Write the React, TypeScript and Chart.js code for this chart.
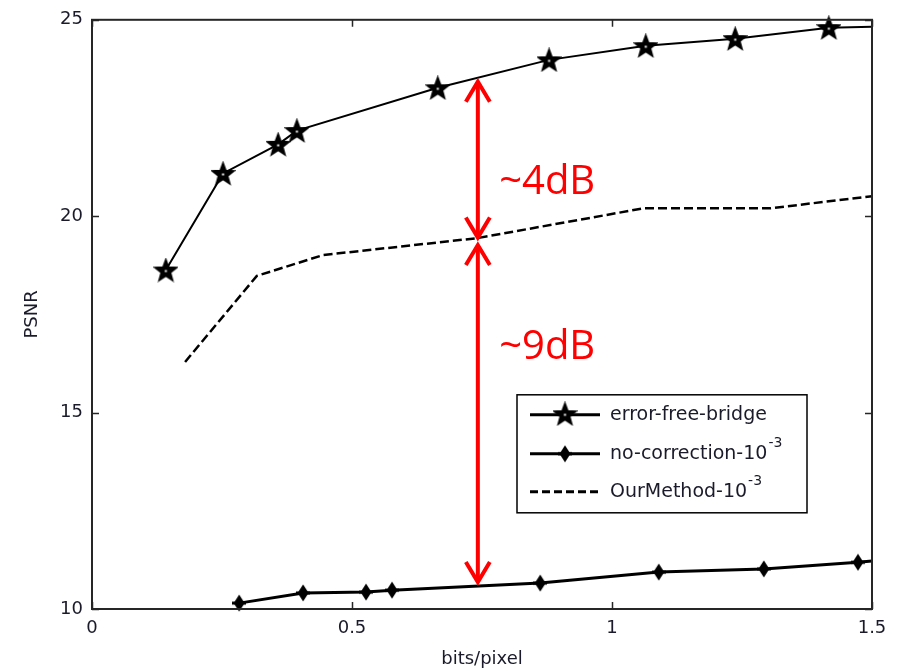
import React, { useEffect, useRef } from 'react';
import { Chart, registerables } from 'chart.js';

Chart.register(...registerables);

// ---- data ----
const bridgeX = [0.142, 0.252, 0.358, 0.394, 0.665, 0.879, 1.065, 1.237, 1.417, 1.5];
const bridgeY = [18.63, 21.09, 21.83, 22.18, 23.27, 23.98, 24.34, 24.52, 24.8, 24.82];
const noCorrX = [0.283, 0.406, 0.527, 0.577, 0.862, 1.09, 1.292, 1.473, 1.5];
const noCorrY = [10.15, 10.41, 10.43, 10.48, 10.66, 10.94, 11.02, 11.19, 11.22];
const ourX = [0.179, 0.317, 0.444, 0.74, 1.06, 1.304, 1.5];
const ourY = [16.29, 18.48, 19.01, 19.44, 20.2, 20.2, 20.51];

const xTicks = [0, 0.5, 1, 1.5];
const yTicks = [10, 15, 20, 25];

const legendNames = ['error-free-bridge', 'no-correction-10', 'OurMethod-10'];
const legendSup = ['', '-3', '-3'];

// annotation (red arrows)
const gapX = 0.742;
const arrowUpper = [23.45, 19.43];
const arrowLower = [19.29, 10.66];
const gapLabels = ['~4dB', '~9dB'];
const gapLabelX = 0.783;
const gapLabelY = [20.56, 16.37];

const TICK_FONT = { family: '"DejaVu Sans", Arial, sans-serif', size: 18 };

function makeStar(size: number) {
  const c = document.createElement('canvas');
  c.width = size;
  c.height = size;
  const g = c.getContext('2d')!;
  const cx = size / 2, cy = size / 2 + 1;
  const R = size / 2 - 1.5, r = R * 0.42;
  g.beginPath();
  for (let i = 0; i < 10; i++) {
    const a = -Math.PI / 2 + (i * Math.PI) / 5;
    const rad = i % 2 ? r : R;
    g.lineTo(cx + rad * Math.cos(a), cy + rad * Math.sin(a));
  }
  g.closePath();
  g.fillStyle = '#000';
  g.fill();
  g.lineWidth = 2;
  g.strokeStyle = '#000';
  g.stroke();
  g.fillStyle = '#fff';
  g.fillRect(cx - 1, cy - 1, 2, 2);
  return c;
}

function makeBlob() {
  const c = document.createElement('canvas');
  c.width = 14;
  c.height = 18;
  const g = c.getContext('2d')!;
  g.fillStyle = '#000';
  g.beginPath();
  g.moveTo(7, 0.5);
  g.lineTo(12.5, 9);
  g.lineTo(7, 17.5);
  g.lineTo(1.5, 9);
  g.closePath();
  g.fill();
  g.fillRect(0, 7.5, 14, 3);
  return c;
}

export default function App() {
  const ref = useRef<HTMLCanvasElement | null>(null);

  useEffect(() => {
    document.body.style.margin = '0';
    const canvas = ref.current!;
    const star = makeStar(25);
    const blob = makeBlob();

    const overlay = {
      id: 'overlay',
      afterDatasetsDraw(chart: any) {
        const ctx = chart.ctx as CanvasRenderingContext2D;
        const xs = chart.scales.x;
        const ys = chart.scales.y;
        const a = chart.chartArea;
        ctx.save();

        // red arrows
        ctx.strokeStyle = '#ff0000';
        ctx.lineWidth = 4;
        ctx.lineCap = 'butt';
        const ax = xs.getPixelForValue(gapX);
        const head = (x: number, y: number, dir: number) => {
          ctx.beginPath();
          ctx.moveTo(x - 12, y + dir * 20);
          ctx.lineTo(x, y);
          ctx.lineTo(x + 12, y + dir * 20);
          ctx.stroke();
        };
        [arrowUpper, arrowLower].forEach((seg) => {
          const y1 = ys.getPixelForValue(seg[0]);
          const y2 = ys.getPixelForValue(seg[1]);
          ctx.beginPath();
          ctx.moveTo(ax, y1 + 2);
          ctx.lineTo(ax, y2 - 2);
          ctx.stroke();
          head(ax, y1 + 1, 1);
          head(ax, y2 - 1, -1);
        });
        ctx.fillStyle = '#ff0000';
        ctx.font = '40px "Open Sans", "Noto Sans", sans-serif';
        ctx.textBaseline = 'alphabetic';
        ctx.textAlign = 'left';
        gapLabels.forEach((t, i) => {
          ctx.fillText(t, xs.getPixelForValue(gapLabelX), ys.getPixelForValue(gapLabelY[i]));
        });

        // legend box
        const lx = a.left + 425, ly = a.top + 375, lw = 290, lh = 118;
        ctx.fillStyle = '#fff';
        ctx.fillRect(lx, ly, lw, lh);
        ctx.strokeStyle = '#000';
        ctx.lineWidth = 1.5;
        ctx.strokeRect(lx, ly, lw, lh);
        const rows = [20, 59, 97];
        legendNames.forEach((name, i) => {
          const ry = ly + rows[i];
          ctx.strokeStyle = '#000';
          ctx.lineWidth = 3;
          ctx.setLineDash(i === 2 ? [8, 4] : []);
          ctx.beginPath();
          ctx.moveTo(lx + 13, ry);
          ctx.lineTo(lx + 83, ry);
          ctx.stroke();
          ctx.setLineDash([]);
          if (i === 0) ctx.drawImage(star, lx + 48 - 12.5, ry - 13.5);
          if (i === 1) ctx.drawImage(blob, lx + 48 - 7, ry - 9);
          ctx.fillStyle = '#1a1a2a';
          ctx.font = '19px "DejaVu Sans", Arial, sans-serif';
          ctx.textBaseline = 'middle';
          ctx.fillText(name, lx + 93, ry);
          if (legendSup[i]) {
            const w = ctx.measureText(name).width;
            ctx.font = '14px "DejaVu Sans", Arial, sans-serif';
            ctx.fillText(legendSup[i], lx + 93 + w + 1, ry - 10);
          }
        });
        ctx.restore();
      },
      afterDraw(chart: any) {
        const ctx = chart.ctx as CanvasRenderingContext2D;
        const a = chart.chartArea;
        const xs = chart.scales.x;
        const ys = chart.scales.y;
        ctx.save();
        ctx.strokeStyle = '#262626';
        ctx.lineWidth = 2;
        ctx.strokeRect(a.left, a.top, a.right - a.left, a.bottom - a.top);
        ctx.lineWidth = 1.5;
        ctx.beginPath();
        xTicks.forEach((v) => {
          const px = Math.round(xs.getPixelForValue(v)) + 0.5;
          ctx.moveTo(px, a.bottom);
          ctx.lineTo(px, a.bottom - 7);
          ctx.moveTo(px, a.top);
          ctx.lineTo(px, a.top + 7);
        });
        yTicks.forEach((v) => {
          const py = Math.round(ys.getPixelForValue(v)) + 0.5;
          ctx.moveTo(a.left, py);
          ctx.lineTo(a.left + 7, py);
          ctx.moveTo(a.right, py);
          ctx.lineTo(a.right - 7, py);
        });
        ctx.stroke();
        ctx.restore();
      },
    };

    const last = (n: number) => (c: any) => (c.dataIndex === n - 1 ? 0 : 8);

    const chart = new Chart(canvas, {
      type: 'line',
      data: {
        datasets: [
          {
            label: 'error-free-bridge',
            data: bridgeX.map((x, i) => ({ x, y: bridgeY[i] })),
            borderColor: '#000',
            borderWidth: 2,
            pointStyle: star as any,
            pointRadius: last(bridgeX.length) as any,
            tension: 0,
            clip: false as any,
          },
          {
            label: 'no-correction-10^-3',
            data: noCorrX.map((x, i) => ({ x, y: noCorrY[i] })),
            borderColor: '#000',
            borderWidth: 3,
            pointStyle: blob as any,
            pointRadius: last(noCorrX.length) as any,
            tension: 0,
            clip: false as any,
          },
          {
            label: 'OurMethod-10^-3',
            data: ourX.map((x, i) => ({ x, y: ourY[i] })),
            borderColor: '#000',
            borderWidth: 2.5,
            borderDash: [9, 4],
            pointRadius: 0,
            tension: 0,
            clip: false as any,
          },
        ],
      },
      options: {
        responsive: false,
        animation: false,
        layout: { padding: { top: 18, right: 29, left: 0, bottom: 0 } },
        plugins: { legend: { display: false }, tooltip: { enabled: false } },
        scales: {
          x: {
            type: 'linear',
            min: 0,
            max: 1.5,
            afterFit: (s: any) => {
              s.height = 62;
            },
            afterBuildTicks: (s: any) => {
              s.ticks = xTicks.map((v) => ({ value: v }));
            },
            grid: { display: false, drawTicks: false },
            border: { display: false },
            ticks: {
              color: '#1a1a2a',
              font: TICK_FONT,
              padding: 9,
              maxRotation: 0,
              callback: (v: any) => String(v),
            },
            title: {
              display: true,
              text: 'bits/pixel',
              color: '#1a1a2a',
              font: TICK_FONT,
              padding: { top: 0, bottom: 1 },
            },
          },
          y: {
            type: 'linear',
            min: 10,
            max: 25,
            afterFit: (s: any) => {
              s.width = 92;
            },
            afterBuildTicks: (s: any) => {
              s.ticks = yTicks.map((v) => ({ value: v }));
            },
            grid: { display: false, drawTicks: false },
            border: { display: false },
            ticks: { color: '#1a1a2a', font: TICK_FONT, padding: 9, callback: (v: any) => String(v) },
            title: {
              display: true,
              text: 'PSNR',
              color: '#1a1a2a',
              font: TICK_FONT,
              padding: { top: 22, bottom: 0 },
            },
          },
        },
      },
      plugins: [overlay],
    });
    return () => chart.destroy();
  }, []);

  return <canvas ref={ref} width={901} height={671} style={{ display: 'block' }} />;
}
